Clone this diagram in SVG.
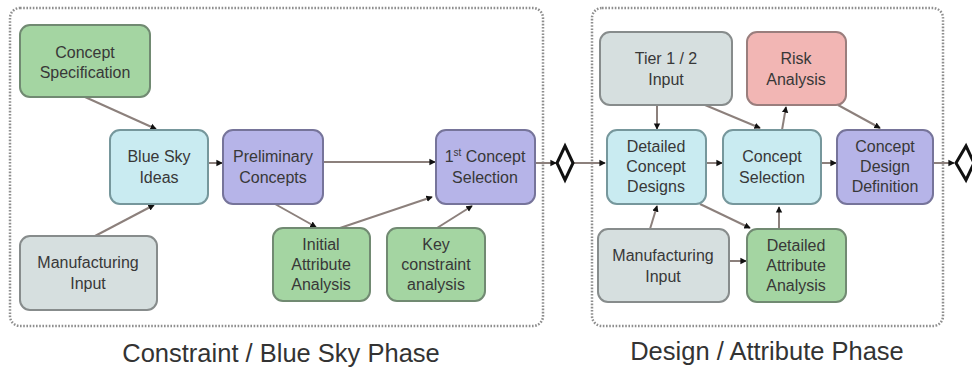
<svg xmlns="http://www.w3.org/2000/svg" width="972" height="367" viewBox="0 0 972 367">
  <defs>
    <style>
      .panel { fill: none; stroke: #8e8e8e; stroke-width: 2.5; stroke-dasharray: 1.6 1.6; }
      .box { stroke-width: 2; }
      .green { fill: #a4d5a2; stroke: #718a72; }
      .blue { fill: #c9ebf1; stroke: #76979c; }
      .lav { fill: #b6b4e8; stroke: #76749a; }
      .grey { fill: #d6dfdf; stroke: #878c8c; }
      .pink { fill: #f2b6b4; stroke: #9a7e7d; }
      .lbl { font-family: "Liberation Sans", Arial, sans-serif; font-size: 16px; fill: #383838; text-anchor: middle; }
      .phase { font-family: "Liberation Sans", Arial, sans-serif; font-size: 25.5px; fill: #333; text-anchor: middle; }
      .link { fill: none; stroke: #8c807c; stroke-width: 2; marker-end: url(#dot); }
      .diamond { fill: #fff; stroke: #111; stroke-width: 3; }
    </style>
    <marker id="dot" viewBox="0 0 10 10" refX="7" refY="5" markerWidth="4" markerHeight="4" orient="auto" markerUnits="strokeWidth">
      <path d="M0,1 L8,5 L0,9 Z" fill="#111"/>
    </marker>
  </defs>

  <rect width="972" height="367" fill="#fff"/>

  <!-- phase frames -->
  <rect class="panel" x="10" y="8" width="533" height="318" rx="10"/>
  <rect class="panel" x="592" y="8" width="351" height="318" rx="10"/>

  <!-- connectors -->
  <g id="connectors">
    <line class="link" x1="85" y1="97" x2="156" y2="129"/>
    <line class="link" x1="95" y1="236" x2="154" y2="205"/>
    <line class="link" x1="208" y1="163" x2="222" y2="163"/>
    <line class="link" x1="323" y1="162" x2="435" y2="162"/>
    <line class="link" x1="275" y1="204" x2="316" y2="227"/>
    <line class="link" x1="340" y1="228" x2="432" y2="197"/>
    <line class="link" x1="437" y1="228" x2="472" y2="206"/>
    <line class="link" x1="535" y1="163" x2="556" y2="163"/>
    <line class="link" x1="573" y1="163" x2="605" y2="163"/>
    <line class="link" x1="657" y1="105" x2="657" y2="129"/>
    <line class="link" x1="705" y1="105" x2="760" y2="128"/>
    <line class="link" x1="782" y1="130" x2="786" y2="107"/>
    <line class="link" x1="838" y1="105" x2="880" y2="128"/>
    <line class="link" x1="706" y1="163" x2="722" y2="163"/>
    <line class="link" x1="821" y1="163" x2="836" y2="163"/>
    <line class="link" x1="650" y1="229" x2="657" y2="206"/>
    <line class="link" x1="700" y1="204" x2="750" y2="228"/>
    <line class="link" x1="779" y1="229" x2="779" y2="207"/>
    <line class="link" x1="729" y1="261" x2="746" y2="261"/>
    <line class="link" x1="933" y1="163" x2="954" y2="163"/>
    <polygon class="diamond" points="565,146 573,163 565,180 557,163"/>
    <polygon class="diamond" points="966,146 974,163 966,180 956,163"/>
  </g>

  <!-- constraint / blue sky phase -->
  <g id="concept-specification">
    <rect class="box green" x="20" y="25" width="130" height="72" rx="10"/>
    <text class="lbl" x="85" y="58">Concept</text>
    <text class="lbl" x="85" y="78">Specification</text>
  </g>
  <g id="blue-sky-ideas">
    <rect class="box blue" x="110" y="130" width="98" height="74" rx="10"/>
    <text class="lbl" x="159" y="162">Blue Sky</text>
    <text class="lbl" x="159" y="183">Ideas</text>
  </g>
  <g id="preliminary-concepts">
    <rect class="box lav" x="223" y="130" width="100" height="74" rx="10"/>
    <text class="lbl" x="273" y="162">Preliminary</text>
    <text class="lbl" x="273" y="183">Concepts</text>
  </g>
  <g id="first-concept-selection">
    <rect class="box lav" x="436" y="130" width="99" height="74" rx="10"/>
    <text class="lbl" x="485" y="162">1<tspan font-size="10" dy="-6">st</tspan><tspan dy="6"> Concept</tspan></text>
    <text class="lbl" x="485" y="183">Selection</text>
  </g>
  <g id="manufacturing-input-1">
    <rect class="box grey" x="20" y="236" width="137" height="74" rx="10"/>
    <text class="lbl" x="88" y="268">Manufacturing</text>
    <text class="lbl" x="88" y="289">Input</text>
  </g>
  <g id="initial-attribute-analysis">
    <rect class="box green" x="273" y="228" width="97" height="73" rx="10"/>
    <text class="lbl" x="321" y="250">Initial</text>
    <text class="lbl" x="321" y="270">Attribute</text>
    <text class="lbl" x="321" y="290">Analysis</text>
  </g>
  <g id="key-constraint-analysis">
    <rect class="box green" x="387" y="228" width="98" height="73" rx="10"/>
    <text class="lbl" x="436" y="250">Key</text>
    <text class="lbl" x="436" y="270">constraint</text>
    <text class="lbl" x="436" y="290">analysis</text>
  </g>

  <!-- design / attribute phase -->
  <g id="tier-input">
    <rect class="box grey" x="600" y="32" width="132" height="73" rx="10"/>
    <text class="lbl" x="666" y="64">Tier 1 / 2</text>
    <text class="lbl" x="666" y="85">Input</text>
  </g>
  <g id="risk-analysis">
    <rect class="box pink" x="747" y="32" width="99" height="73" rx="10"/>
    <text class="lbl" x="796" y="64">Risk</text>
    <text class="lbl" x="796" y="85">Analysis</text>
  </g>
  <g id="detailed-concept-designs">
    <rect class="box blue" x="607" y="130" width="99" height="74" rx="10"/>
    <text class="lbl" x="656" y="152">Detailed</text>
    <text class="lbl" x="656" y="172">Concept</text>
    <text class="lbl" x="656" y="192">Designs</text>
  </g>
  <g id="concept-selection">
    <rect class="box blue" x="723" y="130" width="98" height="74" rx="10"/>
    <text class="lbl" x="772" y="162">Concept</text>
    <text class="lbl" x="772" y="183">Selection</text>
  </g>
  <g id="concept-design-definition">
    <rect class="box lav" x="837" y="130" width="96" height="74" rx="10"/>
    <text class="lbl" x="885" y="152">Concept</text>
    <text class="lbl" x="885" y="172">Design</text>
    <text class="lbl" x="885" y="192">Definition</text>
  </g>
  <g id="manufacturing-input-2">
    <rect class="box grey" x="598" y="229" width="131" height="73" rx="10"/>
    <text class="lbl" x="663" y="261">Manufacturing</text>
    <text class="lbl" x="663" y="282">Input</text>
  </g>
  <g id="detailed-attribute-analysis">
    <rect class="box green" x="747" y="229" width="99" height="73" rx="10"/>
    <text class="lbl" x="796" y="251">Detailed</text>
    <text class="lbl" x="796" y="271">Attribute</text>
    <text class="lbl" x="796" y="291">Analysis</text>
  </g>

  <text class="phase" x="281" y="362">Constraint / Blue Sky Phase</text>
  <text class="phase" x="767" y="360">Design / Attribute Phase</text>
</svg>
